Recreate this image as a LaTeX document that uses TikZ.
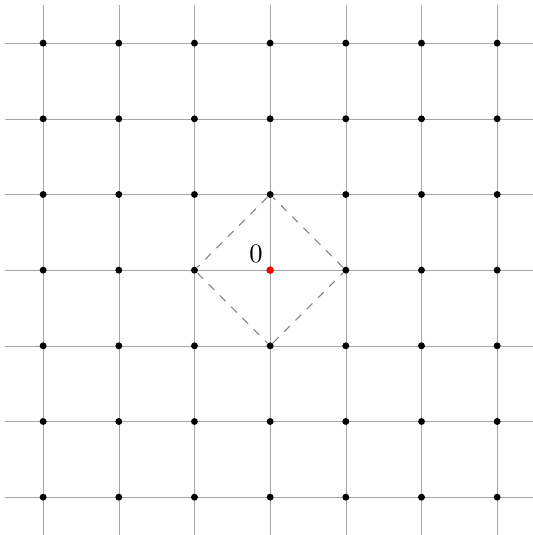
\documentclass[tikz,border=0pt]{standalone}
\usepackage{tikz}
\usepackage{xcolor}

\tikzset{
  gridline/.style={very thin, draw=gray!70},
  latpt/.style={circle, fill=black, inner sep=0pt, minimum size=2.6pt},
  origpt/.style={circle, fill=red, inner sep=0pt, minimum size=2.8pt},
  ballline/.style={thin, dashed, draw=gray}
}

\begin{document}
\begin{tikzpicture}
  \useasboundingbox (-3.57, -3.5) rectangle (3.47, 3.57);

  % Grid lines
  \foreach \k in {-3,...,3} {
    \draw[gridline] (-3.5, \k) -- (3.5, \k);
    \draw[gridline] (\k, -3.5) -- (\k, 3.5);
  }

  % Lattice points
  \foreach \i in {-3,...,3} {
    \foreach \j in {-3,...,3} {
      \node[latpt] (p\i\j) at (\i, \j) {};
    }
  }

  % Origin
  \node[origpt] (orig) at (0, 0) {};
  \node[anchor=south east, inner sep=1.5pt] (origlab) at (orig.north west) {$0$};

  % Unit ball
  \draw[ballline] (p10) -- (p01) -- (p-10) -- (p0-1) -- (p10);
\end{tikzpicture}
\end{document}
